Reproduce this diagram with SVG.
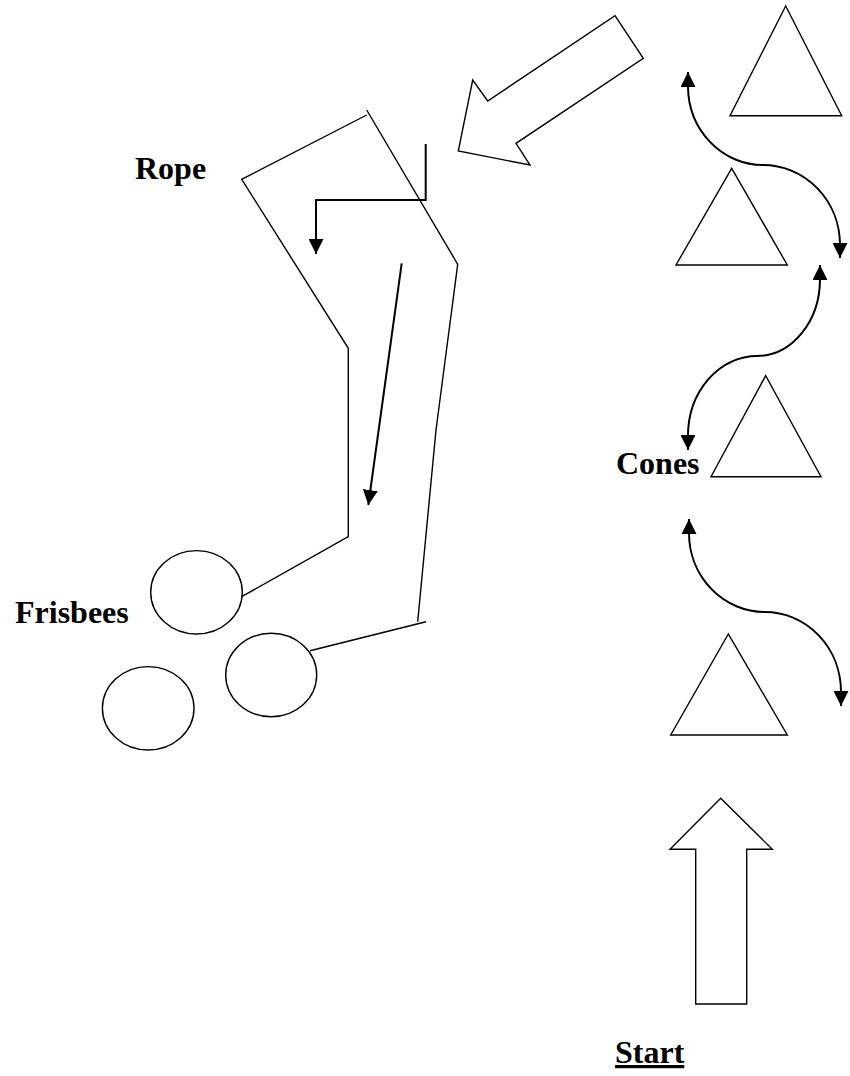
<svg xmlns="http://www.w3.org/2000/svg" width="850" height="1076" viewBox="0 0 850 1076">
<style>
.shape{fill:#fff;stroke:#000;stroke-width:1.4;stroke-linejoin:miter}
.rope{fill:none;stroke:#000;stroke-width:1.4}
.conn{fill:none;stroke:#000;stroke-width:2}
.lbl{font-family:"Liberation Serif","Times New Roman",serif;font-weight:bold;font-size:32px;fill:#000}
</style>
<defs>
<marker id="ah" markerUnits="userSpaceOnUse" markerWidth="15" markerHeight="15" viewBox="0 0 14 14" refX="14" refY="7" orient="auto-start-reverse">
<path d="M0,0 L14,7 L0,14 z" fill="#000"/>
</marker>
</defs>
<rect width="850" height="1076" fill="#fff"/>

<g id="big-arrow">
<polygon class="shape" points="615,15.7 643.3,58.3 516,143.3 530,165 458.3,151 472.7,80 487.7,101"/>
</g>

<g id="cone1"><polygon class="shape" points="785.7,6 730,115.7 841.7,115.7"/></g>
<g id="cone2"><polygon class="shape" points="731.7,168.3 676,265 787.3,265"/></g>
<g id="cone3"><polygon class="shape" points="765.7,375.7 711,476.7 821,476.7"/></g>
<g id="cone4"><polygon class="shape" points="728.3,634 670.7,735 787.3,735"/></g>

<g id="rope">
<polyline class="rope" points="366.7,115 241.7,179.3 348.3,348.3 348.3,536.7 241.7,596.7"/>
<polyline class="rope" points="366.7,110 457.7,264.3 436,430 417.7,621.7"/>
<line class="rope" x1="426" y1="621.7" x2="310" y2="650.7"/>
</g>

<g id="frisbee1"><ellipse class="shape" cx="196.5" cy="592.3" rx="45.8" ry="41.7"/></g>
<g id="frisbee2"><ellipse class="shape" cx="271.2" cy="675" rx="45.5" ry="41.7"/></g>
<g id="frisbee3"><ellipse class="shape" cx="148.2" cy="708.3" rx="45.8" ry="41.7"/></g>

<g id="start-arrow">
<polygon class="shape" points="720.7,798.3 772.3,849.3 746.7,849.3 746.7,1004 695.7,1004 695.7,849.3 670,849.3"/>
</g>

<g id="connectors">
<path class="conn" d="M688,72 L688,86 A75,79 0 0,0 763,165 A77,80 0 0,1 840,245 L840,258" marker-start="url(#ah)" marker-end="url(#ah)"/>
<path class="conn" d="M820,265 L820,279 A63,77 0 0,1 757,356 A69,80 0 0,0 688,436 L688,450" marker-start="url(#ah)" marker-end="url(#ah)"/>
<path class="conn" d="M689,519 L689,533 A76,79 0 0,0 765,612 A76,80 0 0,1 841,692 L841,706" marker-start="url(#ah)" marker-end="url(#ah)"/>
<path class="conn" d="M425.7,144 L425.7,200 L316,200 L316,254" marker-end="url(#ah)"/>
<path class="conn" d="M401.7,263.3 L368.3,505" marker-end="url(#ah)"/>
</g>

<g id="labels">
<text class="lbl" x="135" y="179">Rope</text>
<text class="lbl" x="15" y="622.7">Frisbees</text>
<text class="lbl" x="616" y="473.5">Cones</text>
<text class="lbl" x="615" y="1063" text-decoration="underline">Start</text>
</g>
</svg>
